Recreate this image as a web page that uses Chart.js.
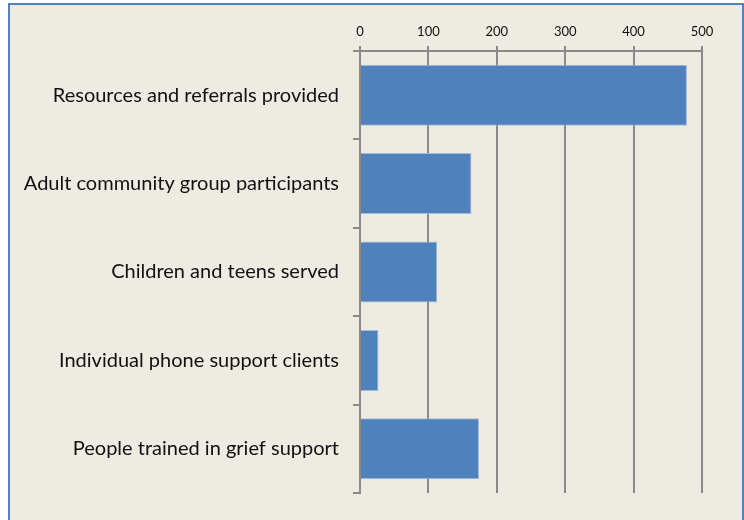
<!DOCTYPE html>
<html>
<head>
<meta charset="utf-8">
<script src="https://cdn.jsdelivr.net/npm/chart.js@4"></script>
<style>
    body { margin: 0; background: #ffffff; }
    .frame {
        position: absolute;
        left: 8px; top: 3px;
        width: 736px; height: 517px;
        box-sizing: border-box;
        background: #EEEBE2;
        border-left: 2px solid #4F81BD;
        border-top: 2px solid #4F81BD;
        border-right: 2px solid #4F81BD;
    }
    .holder { position: absolute; left: 0; top: 0; width: 744px; height: 520px; }
</style>
</head>
<body>
<div class="frame"></div>
<div class="holder"><canvas id="myChart" width="744" height="520"></canvas></div>
<script>
const categories = [
    'Resources and referrals provided',
    'Adult community group participants',
    'Children and teens served',
    'Individual phone support clients',
    'People trained in grief support'
]
const values = [478, 163, 113, 27, 174]
const tickLabels = ['0', '100', '200', '300', '400', '500']

const gridGray = '#898989'

// bar chart config
const myChart = new Chart(
    document.getElementById('myChart'),
    {
        type: 'bar',
        data: {
            labels: categories,
            datasets: [{
                data: values,
                backgroundColor: '#4F81BD',
                borderColor: '#A3BBDC',
                borderWidth: 1,
                borderSkipped: 'start',
                categoryPercentage: 1,
                barPercentage: 0.69
            }]
        },
        options: {
            indexAxis: 'y',
            responsive: false,
            animation: false,
            devicePixelRatio: 1,
            layout: { padding: { left: 0, top: 0, right: 42, bottom: 27 } },
            plugins: {
                legend: { display: false },
                tooltip: { enabled: false }
            },
            scales: {
                x: {
                    position: 'top',
                    min: 0,
                    max: 500,
                    ticks: {
                        stepSize: 100,
                        color: '#111',
                        padding: 6,
                        maxRotation: 0,
                        font: { family: 'Lato', size: 13 },
                        callback: (v, i) => tickLabels[i]
                    },
                    grid: { color: gridGray, lineWidth: 2, tickLength: 5 },
                    border: { color: gridGray, width: 2 },
                    afterFit: (scale) => { scale.height = 51 }
                },
                y: {
                    ticks: {
                        color: '#111',
                        padding: 14,
                        font: { family: 'Lato', size: 20 }
                    },
                    grid: { color: gridGray, lineWidth: 2, tickLength: 7, drawOnChartArea: false },
                    border: { color: gridGray, width: 2 },
                    afterFit: (scale) => { scale.width = 360 }
                }
            }
        }
    })
</script>
</body>
</html>
